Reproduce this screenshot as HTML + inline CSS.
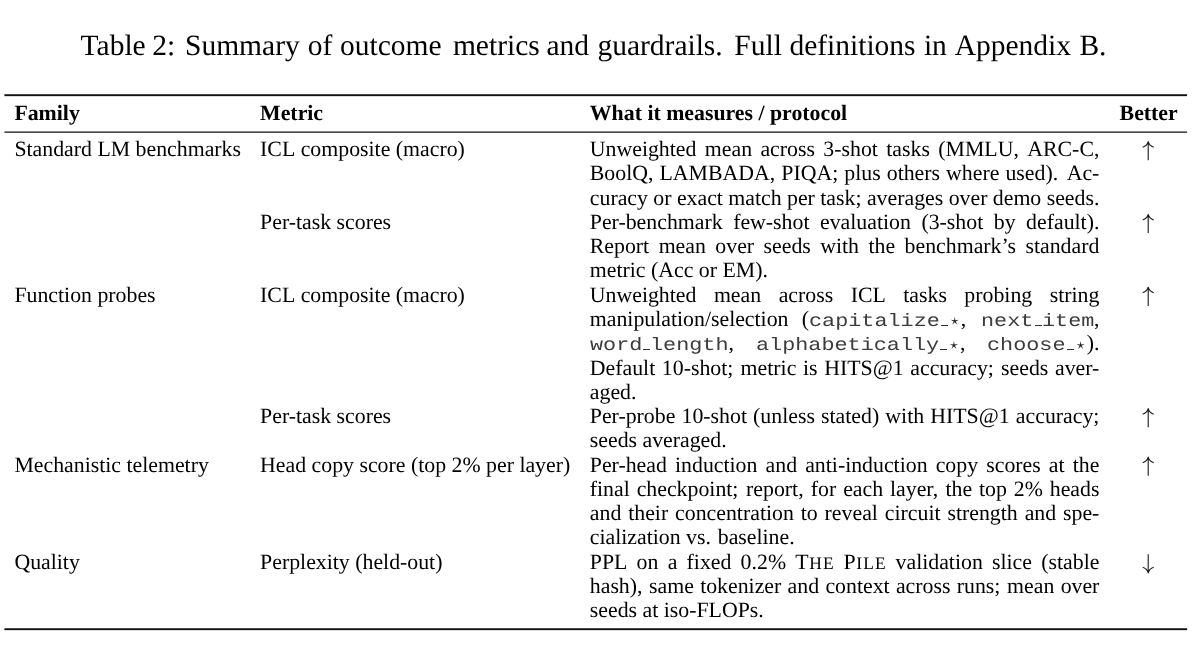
<!DOCTYPE html>
<html><head><meta charset="utf-8"><title>Table 2</title>
<style>
html,body{margin:0;padding:0;background:#fff;}
body{width:1193px;height:659px;position:relative;overflow:hidden;will-change:transform;text-rendering:geometricPrecision;font-family:"Liberation Serif",serif;color:#000;}
.l,.b,.s,.c,.t{position:absolute;white-space:nowrap;line-height:1;}
.l{font-size:21.82px;}
.b{font-size:21.82px;font-weight:bold;}
.s{font-size:17.456px;letter-spacing:1.200px;}
.c{font-size:29.5px;}
.t{font-family:"Liberation Mono",monospace;font-size:17.2px;color:#3c3c3c;transform-origin:0 0;transform:scale(1.2684,1.047);}
.u{position:absolute;height:1px;background:#333;}
.r{position:absolute;left:4.5px;width:1182.5px;background:#111;}
svg{position:absolute;overflow:visible;}
</style></head><body>
<div class="c" style="left:80.60px;top:32px">Table</div>
<div class="c" style="left:152.20px;top:32px">2:</div>
<div class="c" style="left:185.00px;top:32px">Summary</div>
<div class="c" style="left:307.80px;top:32px">of</div>
<div class="c" style="left:340.00px;top:32px">outcome</div>
<div class="c" style="left:452.90px;top:32px">metrics</div>
<div class="c" style="left:546.40px;top:32px">and</div>
<div class="c" style="left:597.40px;top:32px">guardrails.</div>
<div class="c" style="left:734.30px;top:32px">Full</div>
<div class="c" style="left:789.40px;top:32px">definitions</div>
<div class="c" style="left:923.90px;top:32px">in</div>
<div class="c" style="left:954.70px;top:32px">Appendix</div>
<div class="c" style="left:1079.40px;top:32px">B.</div>
<svg style="left:0;top:0" width="1193" height="659"><rect x="4.4" y="94.25" width="1182.7" height="1.9" fill="#111"/><rect x="4.4" y="131.5" width="1182.7" height="1.25" fill="#111"/><rect x="4.4" y="628.25" width="1182.7" height="1.9" fill="#111"/></svg>
<div class="b" style="left:14.40px;top:103px">Family</div>
<div class="b" style="left:260.10px;top:103px">Metric</div>
<div class="b" style="left:589.80px;top:103px">What</div>
<div class="b" style="left:647.38px;top:103px">it</div>
<div class="b" style="left:666.16px;top:103px">measures</div>
<div class="b" style="left:758.46px;top:103px">/</div>
<div class="b" style="left:769.98px;top:103px">protocol</div>
<div class="b" style="left:1119.60px;top:103px">Better</div>
<div class="l" style="left:14.40px;top:139px">Standard</div>
<div class="l" style="left:97.40px;top:139px">LM</div>
<div class="l" style="left:135.58px;top:139px">benchmarks</div>
<div class="l" style="left:14.40px;top:285px">Function</div>
<div class="l" style="left:97.42px;top:285px">probes</div>
<div class="l" style="left:14.40px;top:455px">Mechanistic</div>
<div class="l" style="left:126.46px;top:455px">telemetry</div>
<div class="l" style="left:14.40px;top:552px">Quality</div>
<div class="l" style="left:260.10px;top:139px">ICL</div>
<div class="l" style="left:300.70px;top:139px">composite</div>
<div class="l" style="left:395.82px;top:139px">(macro)</div>
<div class="l" style="left:260.10px;top:212px">Per-task</div>
<div class="l" style="left:336.60px;top:212px">scores</div>
<div class="l" style="left:260.10px;top:285px">ICL</div>
<div class="l" style="left:300.70px;top:285px">composite</div>
<div class="l" style="left:395.82px;top:285px">(macro)</div>
<div class="l" style="left:260.10px;top:406px">Per-task</div>
<div class="l" style="left:336.60px;top:406px">scores</div>
<div class="l" style="left:260.10px;top:455px">Head</div>
<div class="l" style="left:311.59px;top:455px">copy</div>
<div class="l" style="left:359.45px;top:455px">score</div>
<div class="l" style="left:410.93px;top:455px">(top</div>
<div class="l" style="left:451.53px;top:455px">2%</div>
<div class="l" style="left:486.06px;top:455px">per</div>
<div class="l" style="left:519.38px;top:455px">layer)</div>
<div class="l" style="left:260.10px;top:552px">Perplexity</div>
<div class="l" style="left:355.23px;top:552px">(held-out)</div>
<div class="l" style="left:589.80px;top:139px">Unweighted</div>
<div class="l" style="left:704.81px;top:139px">mean</div>
<div class="l" style="left:760.45px;top:139px">across</div>
<div class="l" style="left:823.36px;top:139px">3-shot</div>
<div class="l" style="left:886.28px;top:139px">tasks</div>
<div class="l" style="left:938.29px;top:139px">(MMLU,</div>
<div class="l" style="left:1027.28px;top:139px">ARC-C,</div>
<div class="l" style="left:589.80px;top:163px">BoolQ,</div>
<div class="l" style="left:659.49px;top:163px">LAMBADA,</div>
<div class="l" style="left:781.28px;top:163px">PIQA;</div>
<div class="l" style="left:844.30px;top:163px">plus</div>
<div class="l" style="left:886.73px;top:163px">others</div>
<div class="l" style="left:946.09px;top:163px">where</div>
<div class="l" style="left:1005.44px;top:163px">used).</div>
<div class="l" style="left:1066.70px;top:163px">Ac-</div>
<div class="l" style="left:589.80px;top:188px">curacy</div>
<div class="l" style="left:653.33px;top:188px">or</div>
<div class="l" style="left:676.91px;top:188px">exact</div>
<div class="l" style="left:728.34px;top:188px">match</div>
<div class="l" style="left:787.04px;top:188px">per</div>
<div class="l" style="left:820.31px;top:188px">task;</div>
<div class="l" style="left:866.94px;top:188px">averages</div>
<div class="l" style="left:948.65px;top:188px">over</div>
<div class="l" style="left:992.82px;top:188px">demo</div>
<div class="l" style="left:1046.70px;top:188px">seeds.</div>
<div class="l" style="left:589.80px;top:212px">Per-benchmark</div>
<div class="l" style="left:733.15px;top:212px">few-shot</div>
<div class="l" style="left:820.02px;top:212px">evaluation</div>
<div class="l" style="left:921.43px;top:212px">(3-shot</div>
<div class="l" style="left:993.76px;top:212px">by</div>
<div class="l" style="left:1026.12px;top:212px">default).</div>
<div class="l" style="left:589.80px;top:236px">Report</div>
<div class="l" style="left:658.63px;top:236px">mean</div>
<div class="l" style="left:715.33px;top:236px">over</div>
<div class="l" style="left:763.55px;top:236px">seeds</div>
<div class="l" style="left:820.25px;top:236px">with</div>
<div class="l" style="left:868.48px;top:236px">the</div>
<div class="l" style="left:904.59px;top:236px">benchmark’s</div>
<div class="l" style="left:1025.49px;top:236px">standard</div>
<div class="l" style="left:589.80px;top:260px">metric</div>
<div class="l" style="left:650.97px;top:260px">(Acc</div>
<div class="l" style="left:698.82px;top:260px">or</div>
<div class="l" style="left:722.45px;top:260px">EM).</div>
<div class="l" style="left:589.80px;top:285px">Unweighted</div>
<div class="l" style="left:713.91px;top:285px">mean</div>
<div class="l" style="left:778.64px;top:285px">across</div>
<div class="l" style="left:850.65px;top:285px">ICL</div>
<div class="l" style="left:903.26px;top:285px">tasks</div>
<div class="l" style="left:964.37px;top:285px">probing</div>
<div class="l" style="left:1049.71px;top:285px">string</div>
<div class="l" style="left:589.80px;top:309px">manipulation/selection</div>
<div class="l" style="left:801.72px;top:309px">(</div>
<div class="t" style="left:808.99px;top:313.44px">capitalize</div>
<div class="u" style="left:941.21px;top:325.09px;width:6.9px"></div>
<svg style="left:0;top:0" width="1" height="1"><polygon points="954.75,316.69 955.40,320.20 958.94,319.73 955.80,321.43 957.34,324.65 954.75,322.19 952.17,324.65 953.71,321.43 950.57,319.73 954.11,320.20" fill="#222"/></svg>
<div class="l" style="left:960.80px;top:309px">,</div>
<div class="t" style="left:981.41px;top:313.44px">next</div>
<div class="u" style="left:1035.08px;top:325.09px;width:6.9px"></div>
<div class="t" style="left:1041.58px;top:313.44px">item</div>
<div class="l" style="left:1093.95px;top:309px">,</div>
<div class="t" style="left:589.80px;top:337.44px">word</div>
<div class="u" style="left:643.47px;top:349.36px;width:6.9px"></div>
<div class="t" style="left:649.97px;top:337.44px">length</div>
<div class="l" style="left:728.52px;top:333px">,</div>
<div class="t" style="left:755.79px;top:337.44px">alphabetically</div>
<div class="u" style="left:940.38px;top:349.36px;width:6.9px"></div>
<svg style="left:0;top:0" width="1" height="1"><polygon points="953.92,340.96 954.57,344.47 958.11,344.00 954.97,345.70 956.51,348.92 953.92,346.46 951.34,348.92 952.88,345.70 949.74,344.00 953.28,344.47" fill="#222"/></svg>
<div class="l" style="left:959.97px;top:333px">,</div>
<div class="t" style="left:987.24px;top:337.44px">choose</div>
<div class="u" style="left:1067.09px;top:349.36px;width:6.9px"></div>
<svg style="left:0;top:0" width="1" height="1"><polygon points="1080.64,340.96 1081.28,344.47 1084.82,344.00 1081.68,345.70 1083.22,348.92 1080.64,346.46 1078.05,348.92 1079.59,345.70 1076.45,344.00 1079.99,344.47" fill="#222"/></svg>
<div class="l" style="left:1086.68px;top:333px">).</div>
<div class="l" style="left:589.80px;top:358px">Default</div>
<div class="l" style="left:661.86px;top:358px">10-shot;</div>
<div class="l" style="left:740.61px;top:358px">metric</div>
<div class="l" style="left:802.98px;top:358px">is</div>
<div class="l" style="left:824.20px;top:358px">HITS@1</div>
<div class="l" style="left:910.32px;top:358px">accuracy;</div>
<div class="l" style="left:1001.12px;top:358px">seeds</div>
<div class="l" style="left:1055.03px;top:358px">aver-</div>
<div class="l" style="left:589.80px;top:382px">aged.</div>
<div class="l" style="left:589.80px;top:406px">Per-probe</div>
<div class="l" style="left:681.52px;top:406px">10-shot</div>
<div class="l" style="left:753.09px;top:406px">(unless</div>
<div class="l" style="left:821.03px;top:406px">stated)</div>
<div class="l" style="left:885.33px;top:406px">with</div>
<div class="l" style="left:930.25px;top:406px">HITS@1</div>
<div class="l" style="left:1015.85px;top:406px">accuracy;</div>
<div class="l" style="left:589.80px;top:430px">seeds</div>
<div class="l" style="left:642.50px;top:430px">averaged.</div>
<div class="l" style="left:589.80px;top:455px">Per-head</div>
<div class="l" style="left:675.02px;top:455px">induction</div>
<div class="l" style="left:765.56px;top:455px">and</div>
<div class="l" style="left:805.18px;top:455px">anti-induction</div>
<div class="l" style="left:935.69px;top:455px">copy</div>
<div class="l" style="left:986.22px;top:455px">scores</div>
<div class="l" style="left:1048.87px;top:455px">at</div>
<div class="l" style="left:1072.74px;top:455px">the</div>
<div class="l" style="left:589.80px;top:479px">final</div>
<div class="l" style="left:636.67px;top:479px">checkpoint;</div>
<div class="l" style="left:746.05px;top:479px">report,</div>
<div class="l" style="left:810.84px;top:479px">for</div>
<div class="l" style="left:843.17px;top:479px">each</div>
<div class="l" style="left:890.01px;top:479px">layer,</div>
<div class="l" style="left:945.45px;top:479px">the</div>
<div class="l" style="left:979.00px;top:479px">top</div>
<div class="l" style="left:1013.76px;top:479px">2%</div>
<div class="l" style="left:1049.73px;top:479px">heads</div>
<div class="l" style="left:589.80px;top:503px">and</div>
<div class="l" style="left:628.21px;top:503px">their</div>
<div class="l" style="left:675.11px;top:503px">concentration</div>
<div class="l" style="left:800.73px;top:503px">to</div>
<div class="l" style="left:824.62px;top:503px">reveal</div>
<div class="l" style="left:884.81px;top:503px">circuit</div>
<div class="l" style="left:947.45px;top:503px">strength</div>
<div class="l" style="left:1024.64px;top:503px">and</div>
<div class="l" style="left:1063.06px;top:503px">spe-</div>
<div class="l" style="left:589.80px;top:527px">cialization</div>
<div class="l" style="left:686.10px;top:527px">vs.</div>
<div class="l" style="left:717.72px;top:527px">baseline.</div>
<div class="l" style="left:589.80px;top:552px">PPL</div>
<div class="l" style="left:636.62px;top:552px">on</div>
<div class="l" style="left:667.65px;top:552px">a</div>
<div class="l" style="left:686.57px;top:552px">fixed</div>
<div class="l" style="left:740.62px;top:552px">0.2%</div>
<div class="l" style="left:795.29px;top:552px">T</div>
<div class="s" style="left:809.21px;top:555px">HE</div>
<div class="l" style="left:843.49px;top:552px">P</div>
<div class="s" style="left:856.23px;top:555px">ILE</div>
<div class="l" style="left:895.57px;top:552px">validation</div>
<div class="l" style="left:992.03px;top:552px">slice</div>
<div class="l" style="left:1041.24px;top:552px">(stable</div>
<div class="l" style="left:589.80px;top:576px">hash),</div>
<div class="l" style="left:649.02px;top:576px">same</div>
<div class="l" style="left:700.15px;top:576px">tokenizer</div>
<div class="l" style="left:787.61px;top:576px">and</div>
<div class="l" style="left:825.41px;top:576px">context</div>
<div class="l" style="left:895.91px;top:576px">across</div>
<div class="l" style="left:956.73px;top:576px">runs;</div>
<div class="l" style="left:1007.08px;top:576px">mean</div>
<div class="l" style="left:1060.63px;top:576px">over</div>
<div class="l" style="left:589.80px;top:600px">seeds</div>
<div class="l" style="left:642.50px;top:600px">at</div>
<div class="l" style="left:663.71px;top:600px">iso-FLOPs.</div>
<svg style="left:0;top:0" width="1" height="1"><path d="M1148.2 141.90V160.30M1142.7 147.20C1145.6000000000001 146.20 1147.5 144.20 1148.2 141.60C1148.9 144.20 1150.8 146.20 1153.7 147.20" fill="none" stroke="#1a1a1a" stroke-width="1.1" stroke-linejoin="round"/></svg>
<svg style="left:0;top:0" width="1" height="1"><path d="M1148.2 214.71V233.11M1142.7 220.01C1145.6000000000001 219.01 1147.5 217.01 1148.2 214.41C1148.9 217.01 1150.8 219.01 1153.7 220.01" fill="none" stroke="#1a1a1a" stroke-width="1.1" stroke-linejoin="round"/></svg>
<svg style="left:0;top:0" width="1" height="1"><path d="M1148.2 287.52V305.92M1142.7 292.82C1145.6000000000001 291.82 1147.5 289.82 1148.2 287.22C1148.9 289.82 1150.8 291.82 1153.7 292.82" fill="none" stroke="#1a1a1a" stroke-width="1.1" stroke-linejoin="round"/></svg>
<svg style="left:0;top:0" width="1" height="1"><path d="M1148.2 408.87V427.27M1142.7 414.17C1145.6000000000001 413.17 1147.5 411.17 1148.2 408.57C1148.9 411.17 1150.8 413.17 1153.7 414.17" fill="none" stroke="#1a1a1a" stroke-width="1.1" stroke-linejoin="round"/></svg>
<svg style="left:0;top:0" width="1" height="1"><path d="M1148.2 457.41V475.81M1142.7 462.71C1145.6000000000001 461.71 1147.5 459.71 1148.2 457.11C1148.9 459.71 1150.8 461.71 1153.7 462.71" fill="none" stroke="#1a1a1a" stroke-width="1.1" stroke-linejoin="round"/></svg>
<svg style="left:0;top:0" width="1" height="1"><path d="M1148.2 572.59V554.19M1142.7 567.29C1145.6000000000001 568.29 1147.5 570.29 1148.2 572.89C1148.9 570.29 1150.8 568.29 1153.7 567.29" fill="none" stroke="#1a1a1a" stroke-width="1.1" stroke-linejoin="round"/></svg>
</body></html>
